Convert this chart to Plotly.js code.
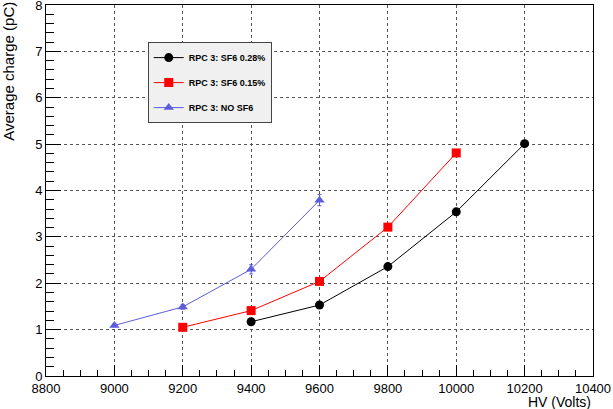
<!DOCTYPE html>
<html>
<head>
<meta charset="utf-8">
<script src="https://cdn.plot.ly/plotly-3.0.1.min.js"></script>
<style>
  html, body { margin: 0; padding: 0; background: #fff; }
  #plot { width: 613px; height: 409px; }
</style>
</head>
<body>
<div id="plot"></div>
<script>
// HV points (Volts) and average charge (pC) per gas mixture
const hvSF6_028 = [9400, 9600, 9800, 10000, 10200];
const qSF6_028 = [1.17, 1.53, 2.36, 3.54, 5.01];
const errSF6_028 = [0.03, 0.03, 0.04, 0.05, 0.05];

const hvSF6_015 = [9200, 9400, 9600, 9800, 10000];
const qSF6_015 = [1.05, 1.41, 2.04, 3.21, 4.81];
const errSF6_015 = [0.03, 0.04, 0.04, 0.06, 0.07];

const hvNoSF6 = [9000, 9200, 9400, 9600];
const qNoSF6 = [1.09, 1.49, 2.30, 3.79];
const errNoSF6 = [0.03, 0.05, 0.10, 0.12];

const names = ["RPC 3: SF6 0.28%", "RPC 3: SF6 0.15%", "RPC 3: NO SF6"];

const font = "Liberation Sans, Arial, Helvetica, sans-serif";

function series(x, y, err, name, color, symbol, group) {
	return {
		x: x, y: y, name: name, type: 'scatter', mode: 'lines+markers',
		legendgroup: group,
		line: {color: color, width: 1},
		marker: {color: color, symbol: symbol, size: 9},
		error_y: {type: 'data', array: err, color: color, thickness: 1, width: 2}
	};
}

let data = [
	series(hvSF6_028, qSF6_028, errSF6_028, names[0], '#000000', 'circle', 'a'),
	series(hvSF6_015, qSF6_015, errSF6_015, names[1], '#ff0000', 'square', 'b'),
	series(hvNoSF6, qNoSF6, errNoSF6, names[2], '#5c5cdc', 'triangle-up', 'c')
];

let layout = {
	width: 613,
	height: 409,
	margin: {l: 46, r: 20, t: 5, b: 33},
	paper_bgcolor: '#ffffff',
	plot_bgcolor: '#ffffff',
	font: {family: font, size: 12, color: '#000'},
	showlegend: true,
	legend: {
		x: 0.186, y: 0.90, xanchor: 'left', yanchor: 'top',
		bgcolor: '#f0f0f0', bordercolor: '#444', borderwidth: 1,
		font: {family: font, size: 9, weight: 'bold', color: '#000'},
		tracegroupgap: 6,
		itemwidth: 30
	},
	xaxis: {
		range: [8800, 10400], dtick: 200, tick0: 8800,
		tickformat: 'd', ticklabeloverflow: 'allow',
		ticks: 'inside', ticklen: 11, tickcolor: '#000',
		minor: {dtick: 50, ticks: 'inside', ticklen: 6, tickcolor: '#000', showgrid: false},
		showline: true, linecolor: '#000', linewidth: 1, mirror: true,
		showgrid: true, gridcolor: '#555', griddash: 'dot', gridwidth: 1,
		zeroline: false,
		tickfont: {size: 13}
	},
	yaxis: {
		range: [0, 8], dtick: 1, tick0: 0,
		ticklabeloverflow: 'allow',
		ticks: 'inside', ticklen: 15, tickcolor: '#000',
		minor: {dtick: 0.2, ticks: 'inside', ticklen: 8, tickcolor: '#000', showgrid: false},
		showline: true, linecolor: '#000', linewidth: 1, mirror: true,
		showgrid: true, gridcolor: '#555', griddash: 'dot', gridwidth: 1,
		zeroline: false,
		tickfont: {size: 13}
	},
	annotations: [
		{
			text: 'HV (Volts)', xref: 'paper', yref: 'paper',
			x: 1, y: -0.07, xanchor: 'right', yanchor: 'middle',
			showarrow: false, font: {family: font, size: 14}
		},
		{
			text: 'Average charge (pC)', xref: 'paper', yref: 'paper',
			x: -0.068, y: 1.015, xanchor: 'center', yanchor: 'top',
			textangle: -90, showarrow: false, font: {family: font, size: 15}
		}
	]
};

Plotly.newPlot('plot', data, layout, {staticPlot: true});
</script>
</body>
</html>
